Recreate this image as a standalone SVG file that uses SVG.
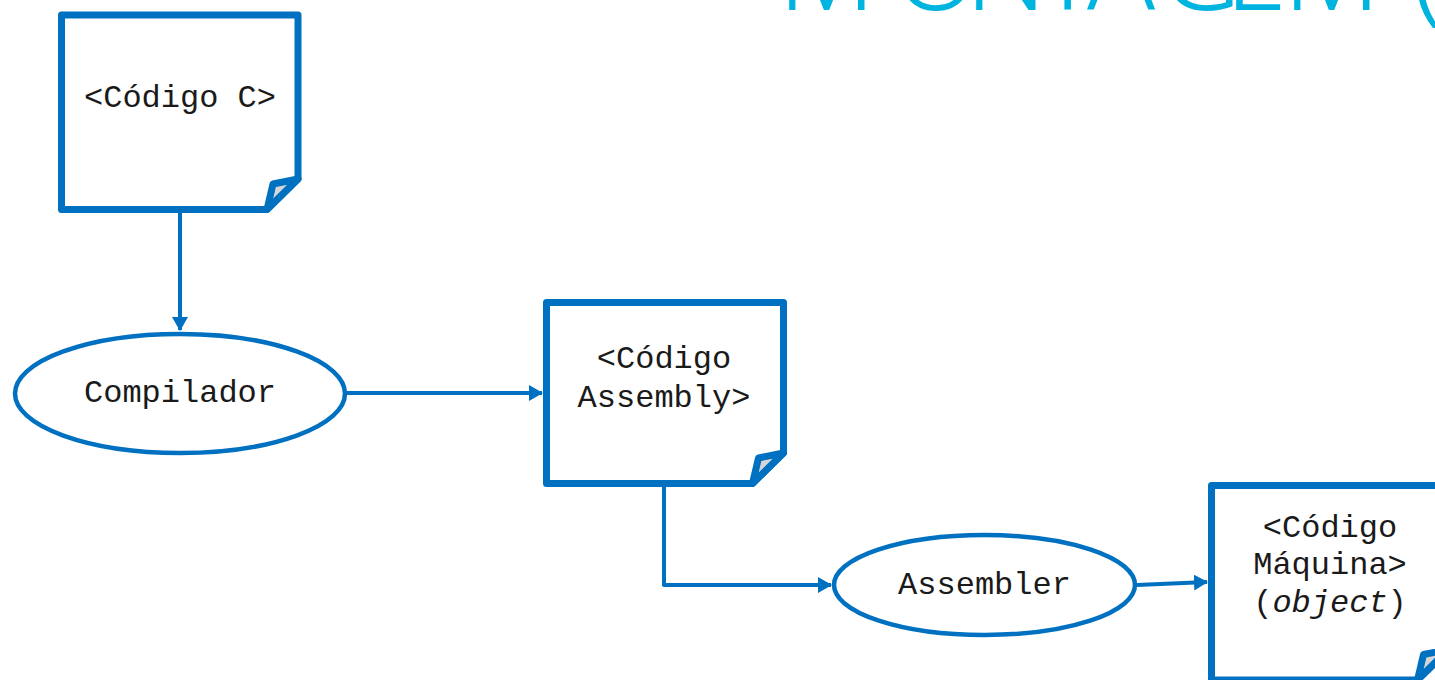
<svg xmlns="http://www.w3.org/2000/svg" width="1435" height="680" viewBox="0 0 1435 680">
  <style>
    .doc { fill: #ffffff; stroke: #0070C0; stroke-width: 7; stroke-linejoin: round; }
    .flap { fill: #D6D6D6; stroke: #0070C0; stroke-width: 7; stroke-linejoin: round; }
    .proc { fill: #ffffff; stroke: #0070C0; stroke-width: 4.5; }
    .lbl { font-family: "Liberation Mono", "Courier New", monospace; font-size: 32px; fill: #1a1a1a; text-anchor: middle; }
    .title { font-family: "Noto Sans", "Open Sans", sans-serif; font-weight: 300; font-size: 112px; fill: #00B4E0; }
    .wire { fill: none; stroke: #0070C0; stroke-width: 4; stroke-linejoin: round; }
  </style>
  <defs>
    <marker id="arrow" markerUnits="userSpaceOnUse" markerWidth="14" markerHeight="16" refX="13" refY="8" orient="auto">
      <path d="M0,0 L14,8 L0,16 Z" fill="#0070C0"/>
    </marker>
  </defs>

  <!-- heading, mostly above the top edge -->
  <text class="title" y="10" x="778 893 965 1038 1087 1160 1225 1283 1390 1412">MONTAGEM (</text>

  <!-- connectors -->
  <g id="connectors">
    <path class="wire" d="M180,213 V330" marker-end="url(#arrow)"/>
    <path class="wire" d="M347,393 H542" marker-end="url(#arrow)"/>
    <path class="wire" d="M664,487 V585 H831" marker-end="url(#arrow)"/>
    <path class="wire" d="M1137,585 L1207,582" marker-end="url(#arrow)"/>
  </g>

  <!-- source file -->
  <g id="codigo-c">
    <path class="doc" d="M61.5,15 H298 V179 L267,209.5 H61.5 Z"/>
    <path class="flap" d="M298,179 L273,184 L267,209.5 Z"/>
    <text class="lbl" x="180" y="107">&lt;Código C&gt;</text>
  </g>

  <!-- compiler -->
  <g id="compilador">
    <ellipse class="proc" cx="180" cy="393.5" rx="165" ry="59.5"/>
    <text class="lbl" x="180" y="402">Compilador</text>
  </g>

  <!-- assembly file -->
  <g id="codigo-assembly">
    <path class="doc" d="M546.5,302.5 H783.5 V453 L752.5,483.5 H546.5 Z"/>
    <path class="flap" d="M783.5,453 L758.5,458 L752.5,483.5 Z"/>
    <text class="lbl" x="664" y="368">&lt;Código</text>
    <text class="lbl" x="664" y="407">Assembly&gt;</text>
  </g>

  <!-- assembler -->
  <g id="assembler">
    <ellipse class="proc" cx="984.5" cy="585" rx="150.5" ry="50"/>
    <text class="lbl" x="984.5" y="594">Assembler</text>
  </g>

  <!-- object file -->
  <g id="codigo-maquina">
    <path class="doc" d="M1211.5,485.5 H1448.5 V649.5 L1417.5,680 H1211.5 Z"/>
    <path class="flap" d="M1448.5,649.5 L1423.5,654.5 L1417.5,680 Z"/>
    <text class="lbl" x="1330" y="537">&lt;Código</text>
    <text class="lbl" x="1330" y="574">Máquina&gt;</text>
    <text class="lbl" x="1330" y="612">(<tspan font-style="italic">object</tspan>)</text>
  </g>
</svg>
